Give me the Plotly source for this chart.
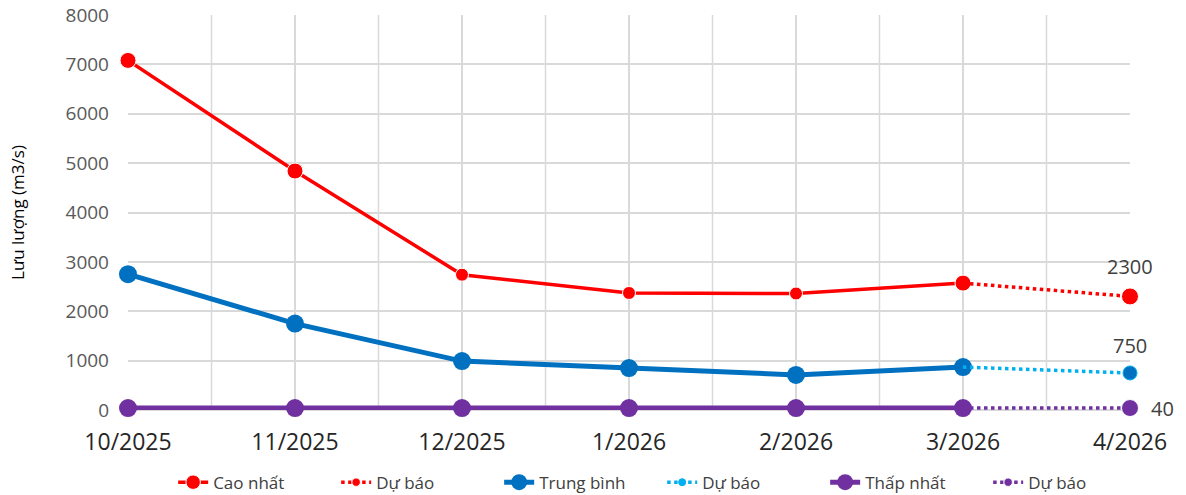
import plotly.graph_objects as go

months = ["10/2025", "11/2025", "12/2025", "1/2026", "2/2026", "3/2026", "4/2026"]
actual_months = months[:6]
forecast_months = months[5:]

cao_nhat = [7080, 4840, 2740, 2370, 2360, 2570]
trung_binh = [2750, 1750, 990, 850, 710, 870]
thap_nhat = [40, 40, 40, 40, 40, 40]

cao_nhat_du_bao = [cao_nhat[-1], 2300]
trung_binh_du_bao = [trung_binh[-1], 750]
thap_nhat_du_bao = [thap_nhat[-1], 40]

FONT = "Open Sans"
GRID = "#d9d9d9"
TXT = "#595959"

fig = go.Figure()

fig.add_trace(go.Scatter(
    x=actual_months, y=cao_nhat, name="Cao nhất", mode="lines+markers",
    line=dict(color="#FF0000", width=3.5),
    marker=dict(color="#FF0000", opacity=1, size=[16, 16, 13, 13, 13, 16]),
    cliponaxis=False
))
fig.add_trace(go.Scatter(
    x=forecast_months, y=cao_nhat_du_bao, name="Dự báo", mode="lines+markers",
    line=dict(color="#FF0000", width=3.5, dash="dot"),
    marker=dict(color="#FF0000", opacity=1, size=[0, 17]),
    cliponaxis=False
))
fig.add_trace(go.Scatter(
    x=actual_months, y=trung_binh, name="Trung bình", mode="lines+markers",
    line=dict(color="#0070C0", width=5),
    marker=dict(color="#0070C0", opacity=1, size=18),
    cliponaxis=False
))
fig.add_trace(go.Scatter(
    x=forecast_months, y=trung_binh_du_bao, name="Dự báo", mode="lines+markers",
    line=dict(color="#00B0F0", width=3.5, dash="dot"),
    marker=dict(color=["#00B0F0", "#0070C0"], opacity=1, size=[0, 14]),
    cliponaxis=False
))
fig.add_trace(go.Scatter(
    x=actual_months, y=thap_nhat, name="Thấp nhất", mode="lines+markers",
    line=dict(color="#7030A0", width=5),
    marker=dict(color="#7030A0", opacity=1, size=18),
    cliponaxis=False
))
fig.add_trace(go.Scatter(
    x=forecast_months, y=thap_nhat_du_bao, name="Dự báo", mode="lines+markers",
    line=dict(color="#7030A0", width=3.5, dash="dot"),
    marker=dict(color="#7030A0", opacity=1, size=[0, 17]),
    cliponaxis=False
))

# value labels on the forecast points
for series, dx, dy in [(cao_nhat_du_bao, 0, 30), (trung_binh_du_bao, 0, 27), (thap_nhat_du_bao, 32, 0)]:
    fig.add_annotation(
        x=forecast_months[-1], y=series[-1], text=str(series[-1]),
        showarrow=False, xshift=dx, yshift=dy,
        font=dict(size=20, color="#404040", family=FONT)
    )

# extra vertical gridlines half way between months
for i in range(len(months) - 1):
    fig.add_vline(x=i + 0.5, line=dict(color=GRID, width=1.5), layer="below")

fig.update_layout(
    width=1186, height=495,
    margin=dict(l=128, r=56, t=15, b=85, autoexpand=False),
    plot_bgcolor="white", paper_bgcolor="white",
    font=dict(family=FONT, color=TXT),
    showlegend=True,
    legend=dict(
        orientation="h", x=0.146, xanchor="left", xref="container",
        y=0.025, yanchor="middle", yref="container",
        font=dict(size=17, color="#404040"),
        entrywidth=118, entrywidthmode="pixels",
        tracegroupgap=0
    ),
    xaxis=dict(
        type="category", categoryorder="array", categoryarray=months,
        range=[0, len(months) - 1], automargin=False,
        showgrid=True, gridcolor=GRID, gridwidth=1.5,
        tickfont=dict(size=23, color="#262626"),
        showline=False, zeroline=False, ticks="", ticklabelstandoff=16
    ),
    yaxis=dict(
        range=[0, 8000], dtick=1000, automargin=False,
        showgrid=True, gridcolor=GRID, gridwidth=1.5,
        tickfont=dict(size=19, color=TXT),
        zeroline=True, zerolinecolor=GRID, zerolinewidth=1.5,
        title=dict(text="Lưu lượng (m3/s)", font=dict(size=17, color="#000000"), standoff=36),
        ticks="", ticklabelstandoff=18
    )
)

fig.write_html("out.html", config={"displayModeBar": False},
               post_script="document.body.style.margin='0';")
